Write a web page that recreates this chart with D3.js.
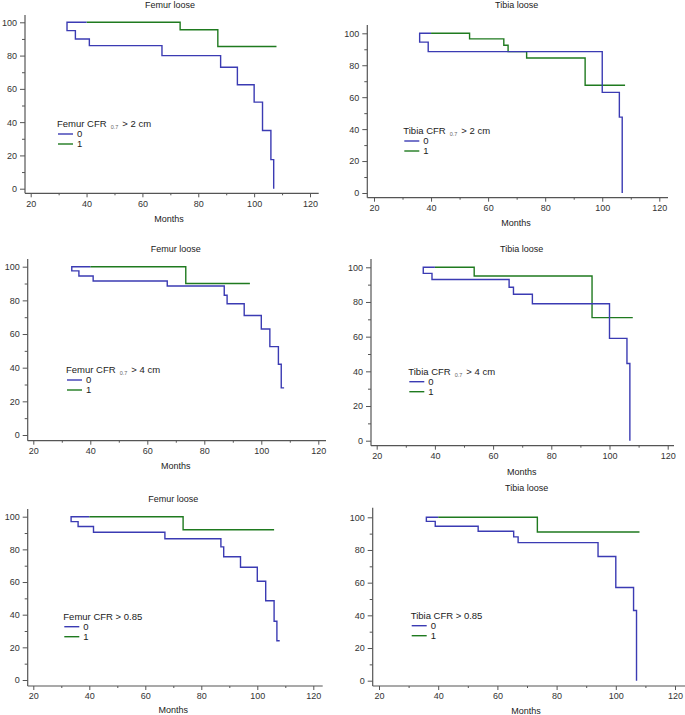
<!DOCTYPE html>
<html>
<head>
<meta charset="utf-8">
<script src="https://cdn.jsdelivr.net/npm/d3@7"></script>
<style>
  body { margin: 0; background: #fff; }
  svg { display: block; font-family: "Liberation Sans", Arial, sans-serif; }
  .tick text { fill: #333; font-size: 9px; }
</style>
</head>
<body>
<svg id="chart" width="685" height="715"></svg>
<script>
// chart values
var titles = ["Femur loose", "Tibia loose", "Femur loose", "Tibia loose", "Femur loose", "Tibia loose"];
var legendTitles = [
  ["Femur CFR", "0.7", "> 2 cm"],
  ["Tibia CFR", "0.7", "> 2 cm"],
  ["Femur CFR", "0.7", "> 4 cm"],
  ["Tibia CFR", "0.7", "> 4 cm"],
  ["Femur CFR > 0.85", "", ""],
  ["Tibia CFR > 0.85", "", ""]
];
var groupLabels = ["0", "1"];
var xTicks = [20, 40, 60, 80, 100, 120];
var xMinor = [30, 50, 70, 90, 110];
var yTicks = [0, 20, 40, 60, 80, 100];
var yMinor = [10, 30, 50, 70, 90];
var xLabel = "Months";

// [months, survival %] knots, drawn as step curves
var group0 = [
  [[40,100],[33,100],[33,95],[36,90],[41,86],[67,80],[88,73],[94,62.5],[100,52],[103,35],[106,17.5],[107,0]],
  [[40,100],[36,100],[36,94.5],[39,88.5],[100,63],[106,47.5],[107,0]],
  [[40,100],[33.5,100],[33.5,97.5],[36,94.5],[41,91.5],[67,88.5],[87,83],[88,78],[94,71],[100,63],[103,52.5],[106,42],[107,28],[108,28]],
  [[40,100],[36,100],[36,96.5],[39,93],[65.5,88.5],[67,84.5],[73.5,79],[100,59],[106,44.5],[107,0]],
  [[40,100],[33.5,100],[33.5,97],[36,94],[41.5,90.5],[67,86.5],[87,81.5],[88,75.5],[94,69],[100,60.5],[103,48.5],[106,36],[107,24],[108,24]],
  [[40,100],[36,100],[36,97.5],[39,94.5],[53.5,91.5],[65.5,88],[67,84.5],[94,76],[100,57],[106,43],[107,0]]
];
var group1 = [
  [[40,100],[73.5,95.5],[87,85.5],[108,85.5]],
  [[40,100],[53.5,96.5],[65.5,92.5],[67,88.5],[73.5,84.5],[94,67.5],[108,67.5]],
  [[40,100],[73.5,90],[96,90]],
  [[40,100],[53.5,95],[94,71],[108,71]],
  [[40,100],[73.5,92],[106,92]],
  [[40,100],[73.5,91],[108,91]]
];

var colors = ["#3b3bb3", "#1f7a1f"];

// panel geometry (pixels)
var layout = [
  { x20: 30.7, x120: 310, y0: 188.7, y100: 22.3, ax: 25, ay: 193.3, top: 15, right: 318.7, tx: 170, ty: 8, mx: 169, my: 221.5, lx: 57, ly: 124 },
  { x20: 374, x120: 659.3, y0: 193, y100: 33.3, ax: 367.3, ay: 197.7, top: 25, right: 668, tx: 516.7, ty: 8, mx: 516, my: 226, lx: 403.3, ly: 131 },
  { x20: 33.3, x120: 318.3, y0: 435, y100: 266.7, ax: 27.7, ay: 440.7, top: 259, right: 326, tx: 175.7, ty: 251.5, mx: 175.7, my: 468.5, lx: 66, ly: 370 },
  { x20: 376.7, x120: 667.7, y0: 440.7, y100: 267.3, ax: 371, ay: 445.7, top: 259, right: 674, tx: 521.7, ty: 251.5, mx: 521.7, my: 474.5, lx: 408.3, ly: 371.7 },
  { x20: 33.3, x120: 313.3, y0: 680, y100: 516.7, ax: 27.7, ay: 686, top: 509, right: 322.7, tx: 173.3, ty: 501.5, mx: 173.3, my: 712.5, lx: 63.3, ly: 616.7 },
  { x20: 379, x120: 675, y0: 680.7, y100: 517.3, ax: 372.7, ay: 686, top: 507.7, right: 685, tx: 526.7, ty: 490.5, mx: 526, my: 713.5, lx: 410.7, ly: 615.7 }
];

var svg = d3.select("#chart");

function drawPanel(i) {
  var L = layout[i];
  var x = d3.scaleLinear().domain([20, 120]).range([L.x20, L.x120]);
  var y = d3.scaleLinear().domain([0, 100]).range([L.y0, L.y100]);
  var g = svg.append("g");

  // axes
  var yAxis = g.append("g").attr("transform", "translate(" + L.ax + ",0)")
    .call(d3.axisLeft(y).tickValues(yTicks).tickSize(5).tickPadding(3));
  g.append("g").attr("transform", "translate(" + L.ax + ",0)")
    .call(d3.axisLeft(y).tickValues(yMinor).tickSize(3).tickFormat(""));
  var xAxis = g.append("g").attr("transform", "translate(0," + L.ay + ")")
    .call(d3.axisBottom(x).tickValues(xTicks).tickSize(4).tickPadding(3));
  g.append("g").attr("transform", "translate(0," + L.ay + ")")
    .call(d3.axisBottom(x).tickValues(xMinor).tickSize(2).tickFormat(""));
  g.selectAll(".domain").remove();
  g.selectAll(".tick line").attr("stroke", "#555");

  g.append("line").attr("x1", L.ax).attr("x2", L.ax).attr("y1", L.top).attr("y2", L.ay)
    .attr("stroke", "#555").attr("stroke-width", 1.2);
  g.append("line").attr("x1", L.ax).attr("x2", L.right).attr("y1", L.ay).attr("y2", L.ay)
    .attr("stroke", "#555").attr("stroke-width", 1.2);

  // title and x label
  g.append("text").attr("x", L.tx).attr("y", L.ty).attr("text-anchor", "middle")
    .attr("font-size", 9).attr("fill", "#222").text(titles[i]);
  g.append("text").attr("x", L.mx).attr("y", L.my).attr("text-anchor", "middle")
    .attr("font-size", 9).attr("fill", "#222").text(xLabel);

  // curves
  var line = d3.line().curve(d3.curveStepAfter)
    .x(function (d) { return x(d[0]); })
    .y(function (d) { return y(d[1]); });
  [group1[i], group0[i]].forEach(function (pts, k) {
    g.append("path").attr("d", line(pts)).attr("fill", "none")
      .attr("stroke", colors[1 - k]).attr("stroke-width", 1.4);
  });

  // legend
  var lt = legendTitles[i];
  var t = g.append("text").attr("x", L.lx).attr("y", L.ly + 3.3)
    .attr("font-size", 9.5).attr("fill", "#222");
  t.append("tspan").text(lt[0]);
  if (lt[1]) {
    t.append("tspan").attr("dx", 4).attr("dy", 1.5).attr("font-size", 5.5).attr("fill", "#666").text(lt[1]);
    t.append("tspan").attr("dx", 4).attr("dy", -1.5).text(lt[2]);
  }
  groupLabels.forEach(function (lab, k) {
    var ly = L.ly + 10 + k * 10;
    g.append("line").attr("x1", L.lx + 1).attr("x2", L.lx + 16).attr("y1", ly).attr("y2", ly)
      .attr("stroke", colors[k]).attr("stroke-width", 1.4);
    g.append("text").attr("x", L.lx + 20).attr("y", ly + 3.3)
      .attr("font-size", 9.5).attr("fill", "#222").text(lab);
  });
}

for (var i = 0; i < layout.length; i++) drawPanel(i);
</script>
</body>
</html>
